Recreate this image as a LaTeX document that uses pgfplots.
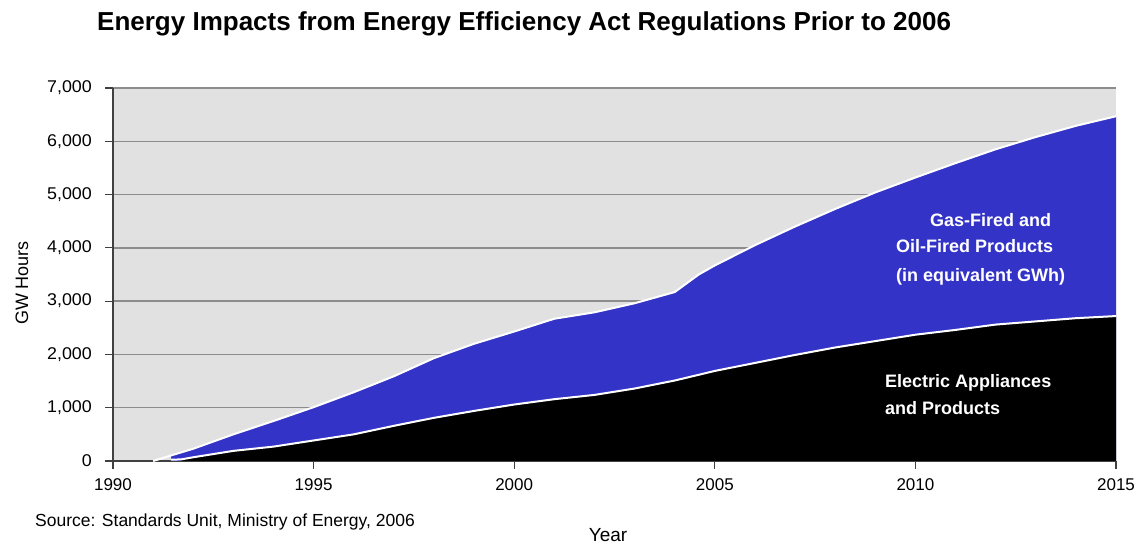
\documentclass[border=0pt]{standalone}
\usepackage{pgfplots}
\pgfplotsset{compat=1.18}
\usepackage{fontspec}
\setmainfont{Liberation Sans}
\definecolor{bgGray}{HTML}{E1E1E1}
\definecolor{gridGray}{HTML}{8C8C8C}
\definecolor{blueC}{HTML}{3333C8}
\definecolor{axisC}{HTML}{404040}
\begin{document}
\begin{tikzpicture}[x=1pt,y=1pt]
\path[use as bounding box] (0,0) rectangle (1141,546);
\begin{axis}[
  at={(113pt,85pt)}, anchor=origin,
  scale only axis, width=1003pt, height=373pt,
  xmin=1990, xmax=2015, ymin=0, ymax=7000,
  axis lines*=left,
  axis line style={axisC, line width=1.4pt},
  axis background/.style={fill=bgGray},
  xtick={1990,1995,...,2015},
  ytick={0,1000,...,7000},
  ymajorgrids,
  grid style={gridGray, line width=1.3pt},
  tick align=outside,
  major tick length=8pt,
  tick style={axisC, line width=1.2pt},
  /pgf/number format/assume math mode=true,
  x tick label style={/pgf/number format/1000 sep={}, font=\fontsize{17}{19}\selectfont, yshift=-6pt},
  y tick label style={/pgf/number format/1000 sep={,}, font=\fontsize{17}{19}\selectfont, xscale=1.05, xshift=-9pt},
  clip=false,
]
\addplot[fill=blueC, draw=none] coordinates {
 (1991.45,105) (1992,230) (1993,500) (1994,750) (1995,1010) (1996,1290)
 (1997,1590) (1998,1930) (1999,2200) (2000,2430) (2001,2670) (2002,2790)
 (2003,2960) (2004,3170) (2004.6,3500) (2005,3670) (2006,4050) (2007,4400)
 (2008,4730) (2009,5040) (2010,5320) (2011,5590) (2012,5850) (2013,6080)
 (2014,6290) (2015,6470)} \closedcycle;
\addplot[fill=black, draw=none] coordinates {
 (1991.7,30) (1992,70) (1993,190) (1994,270) (1995,385) (1996,500)
 (1997,660) (1998,810) (1999,940) (2000,1060) (2001,1160) (2002,1240)
 (2003,1360) (2004,1510) (2005,1690) (2006,1840) (2007,1990) (2008,2130)
 (2009,2250) (2010,2370) (2011,2460) (2012,2560) (2013,2620) (2014,2680)
 (2015,2720)} \closedcycle;
\addplot[white, line width=2pt] coordinates {
 (1991,0) (1991.45,105) (1992,230) (1993,500) (1994,750) (1995,1010) (1996,1290)
 (1997,1590) (1998,1930) (1999,2200) (2000,2430) (2001,2670) (2002,2790)
 (2003,2960) (2004,3170) (2004.6,3500) (2005,3670) (2006,4050) (2007,4400)
 (2008,4730) (2009,5040) (2010,5320) (2011,5590) (2012,5850) (2013,6080)
 (2014,6290) (2015,6470)};
\addplot[white, line width=2pt] coordinates {
 (1991.45,25) (1991.7,30) (1992,70) (1993,190) (1994,270) (1995,385) (1996,500)
 (1997,660) (1998,810) (1999,940) (2000,1060) (2001,1160) (2002,1240)
 (2003,1360) (2004,1510) (2005,1690) (2006,1840) (2007,1990) (2008,2130)
 (2009,2250) (2010,2370) (2011,2460) (2012,2560) (2013,2620) (2014,2680)
 (2015,2720)};
\end{axis}
\node[anchor=base west, inner sep=0pt, font=\bfseries\fontsize{26}{30}\selectfont] at (97,515) {Energy Impacts from Energy Efficiency Act Regulations Prior to 2006};
\node[rotate=90, font=\fontsize{18}{20}\selectfont] at (22,263) {GW Hours};
\node[anchor=base, inner sep=0pt, font=\fontsize{19}{21}\selectfont] at (608,4) {Year};
\node[anchor=base west, inner sep=0pt, font=\fontsize{17.5}{20}\selectfont] at (35,19) {Source: Standards Unit, Ministry of Energy, 2006};
\begin{scope}[every node/.style={anchor=base west, inner sep=0pt, text=white, font=\bfseries\fontsize{18}{20}\selectfont}]
\node at (930,319) {Gas-Fired and};
\node at (896,293) {Oil-Fired Products};
\node at (896,264) {(in equivalent GWh)};
\node at (885,158) {Electric Appliances};
\node at (885,131) {and Products};
\end{scope}
\end{tikzpicture}
\end{document}
